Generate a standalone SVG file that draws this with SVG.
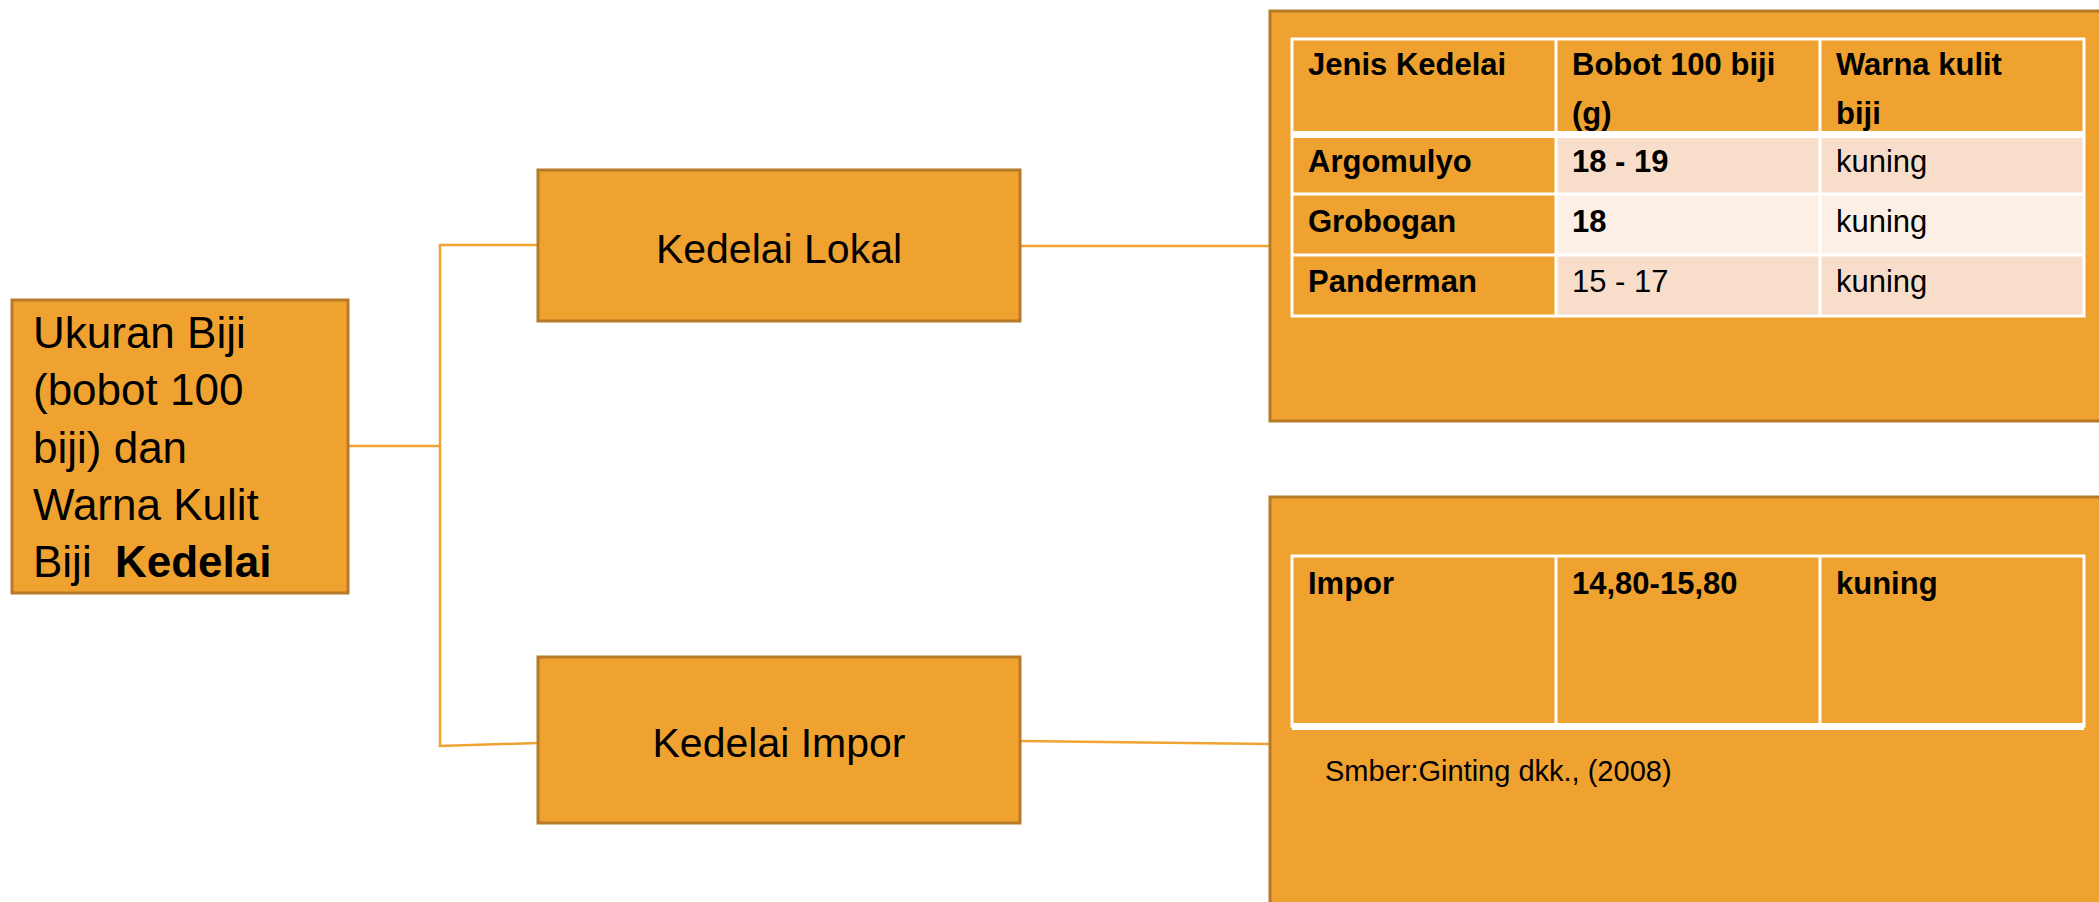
<svg xmlns="http://www.w3.org/2000/svg" width="2099" height="902" viewBox="0 0 2099 902">
  <style>
    .box { fill: #EFA22F; stroke: #B67A28; stroke-width: 3; }
    .panel { fill: #EFA22F; stroke: #B67A28; stroke-width: 3; }
    .link { fill: none; stroke: #F0A232; stroke-width: 2.5; }
    .grid { stroke: #FFFFFF; stroke-width: 3; fill: none; }
    .t { font-family: "Liberation Sans", Arial, sans-serif; fill: #000; }
    .root { font-size: 44px; }
    .node { font-size: 41px; text-anchor: middle; }
    .cell { font-size: 31px; }
    .b { font-weight: bold; }
    .src { font-size: 29px; }
    .odd { fill: #F8DECA; }
    .even { fill: #FCEFE6; }
  </style>

  <!-- connectors -->
  <g id="connectors">
    <polyline class="link" points="348,446 440,446"/>
    <polyline class="link" points="538,245 440,245 440,746 538,743"/>
    <line class="link" x1="1020" y1="246" x2="1270" y2="246"/>
    <line class="link" x1="1020" y1="741" x2="1270" y2="744"/>
  </g>

  <!-- root node -->
  <g id="root">
    <rect class="box" x="12" y="300" width="336" height="293"/>
    <text class="t root" x="33" y="348">Ukuran Biji</text>
    <text class="t root" x="33" y="405">(bobot 100</text>
    <text class="t root" x="33" y="463">biji) dan</text>
    <text class="t root" x="33" y="520">Warna Kulit</text>
    <text class="t root" x="33" y="577">Biji<tspan class="b" x="115">Kedelai</tspan></text>
  </g>

  <!-- branch nodes -->
  <g id="lokal">
    <rect class="box" x="538" y="170" width="482" height="151"/>
    <text class="t node" x="779" y="263">Kedelai Lokal</text>
  </g>
  <g id="impor">
    <rect class="box" x="538" y="657" width="482" height="166"/>
    <text class="t node" x="779" y="757">Kedelai Impor</text>
  </g>

  <!-- local varieties table -->
  <g id="tabel-lokal">
    <rect class="panel" x="1270" y="11" width="850" height="410"/>
    <rect class="odd" x="1556" y="138" width="528" height="56"/>
    <rect class="even" x="1556" y="194" width="528" height="61"/>
    <rect class="odd" x="1556" y="255" width="528" height="61"/>
    <rect class="grid" x="1292" y="39" width="792" height="277"/>
    <line class="grid" x1="1556" y1="39" x2="1556" y2="316"/>
    <line class="grid" x1="1820" y1="39" x2="1820" y2="316"/>
    <rect x="1292" y="131" width="792" height="7" fill="#FFFFFF"/>
    <line class="grid" x1="1292" y1="194" x2="2084" y2="194"/>
    <line class="grid" x1="1292" y1="255" x2="2084" y2="255"/>

    <text class="t cell b" x="1308" y="75">Jenis Kedelai</text>
    <text class="t cell b" x="1572" y="75">Bobot 100 biji</text>
    <text class="t cell b" x="1572" y="124">(g)</text>
    <text class="t cell b" x="1836" y="75">Warna kulit</text>
    <text class="t cell b" x="1836" y="124">biji</text>

    <text class="t cell b" x="1308" y="172">Argomulyo</text>
    <text class="t cell b" x="1572" y="172">18 - 19</text>
    <text class="t cell" x="1836" y="172">kuning</text>

    <text class="t cell b" x="1308" y="232">Grobogan</text>
    <text class="t cell b" x="1572" y="232">18</text>
    <text class="t cell" x="1836" y="232">kuning</text>

    <text class="t cell b" x="1308" y="292">Panderman</text>
    <text class="t cell" x="1572" y="292">15 - 17</text>
    <text class="t cell" x="1836" y="292">kuning</text>
  </g>

  <!-- imported variety table -->
  <g id="tabel-impor">
    <rect class="panel" x="1270" y="497" width="850" height="420"/>
    <rect class="grid" x="1292" y="556" width="792" height="170"/>
    <line class="grid" x1="1556" y1="556" x2="1556" y2="730"/>
    <line class="grid" x1="1820" y1="556" x2="1820" y2="730"/>
    <rect x="1292" y="723" width="792" height="7" fill="#FFFFFF"/>

    <text class="t cell b" x="1308" y="594">Impor</text>
    <text class="t cell b" x="1572" y="594">14,80-15,80</text>
    <text class="t cell b" x="1836" y="594">kuning</text>

    <text class="t src" x="1325" y="781">Smber:Ginting dkk., (2008)</text>
  </g>
</svg>
